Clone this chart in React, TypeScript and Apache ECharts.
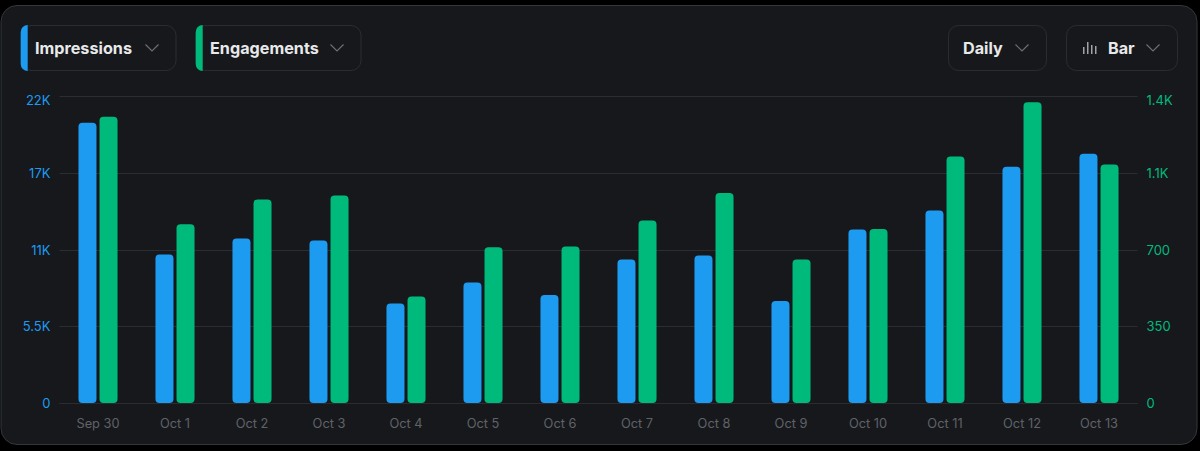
import React, { useEffect, useRef } from "react";
import * as echarts from "echarts";

const categories = ["Sep 30", "Oct 1", "Oct 2", "Oct 3", "Oct 4", "Oct 5", "Oct 6", "Oct 7", "Oct 8", "Oct 9", "Oct 10", "Oct 11", "Oct 12", "Oct 13"];
const impressions = [20115, 10656, 11802, 11659, 7144, 8649, 7754, 10298, 10584, 7324, 12447, 13809, 16962, 17894];
const engagements = [1308, 816, 930, 948, 487, 711, 715, 834, 959, 656, 795, 1126, 1374, 1089];

const BLUE = "#1d9bf0";
const GREEN = "#00ba7c";
const CARD = "#17181c";
const BORDER = "#2a2c30";
const FONT = "Inter, 'Noto Sans', sans-serif";

const fmtValue = (v: number) => {
  if (v === 0) return "0";
  if (v >= 1000) {
    const k = v / 1000;
    return (k >= 10 ? Math.round(k + 0.001) : Math.round(k * 10) / 10) + "K";
  }
  return String(v);
};

const fmt = (max: number) => (v: number) => (v === max ? `{top|${fmtValue(v)}}` : fmtValue(v));

const topRich = (color: string) => ({
  top: { color, fontSize: 13, fontFamily: FONT, padding: [7, 0, 0, 0] },
});

const chevron = (cx: number, cy: number) => ({
  type: "polyline",
  shape: { points: [[cx - 6.5, cy - 3.5], [cx, cy + 3], [cx + 6.5, cy - 3.5]] },
  style: { stroke: "#6b6f74", lineWidth: 1.2, fill: "none" },
  silent: true,
});

const chip = (x: number, w: number) => ({
  type: "rect",
  shape: { x: x + 0.5, y: 25.5, width: w, height: 45, r: 10 },
  style: { fill: "none", stroke: BORDER, lineWidth: 1 },
  silent: true,
});

const label = (x: number, text: string) => ({
  type: "text",
  x,
  y: 48,
  style: { text, fill: "#e7e9ea", font: `700 16.2px ${FONT}`, verticalAlign: "middle" },
  silent: true,
});

const accent = (x: number, color: string) => ({
  type: "rect",
  shape: { x, y: 25, width: 7, height: 46, r: [9, 0, 0, 9] },
  style: { fill: color },
  silent: true,
});

const barIcon = [[1083, 47, 1.5, 7], [1087, 42, 1.5, 12], [1091, 45, 1.5, 9], [1095, 46, 1.5, 8]].map(([x, y, w, h]) => ({
  type: "rect",
  shape: { x, y, width: w, height: h },
  style: { fill: "#a0a4a8" },
  silent: true,
}));

export default function App() {
  const ref = useRef<HTMLDivElement>(null);
  useEffect(() => {
    const chart = echarts.init(ref.current!, null, { renderer: "svg" });
    chart.setOption({
      animation: false,
      backgroundColor: "#000000",
      textStyle: { fontFamily: FONT },
      graphic: [
        {
          type: "rect",
          z: -10,
          shape: { x: 1, y: 5.5, width: 1196, height: 439, r: 16 },
          style: { fill: CARD, stroke: "#33363b", lineWidth: 1 },
          silent: true,
        },
        chip(20.5, 155),
        accent(20.7, BLUE),
        label(35, "Impressions"),
        chevron(152, 48),
        chip(195.5, 165),
        accent(195.7, GREEN),
        label(210, "Engagements"),
        chevron(337, 48),
        chip(948, 98),
        label(963, "Daily"),
        chevron(1022, 48),
        chip(1066, 111),
        ...barIcon,
        label(1108, "Bar"),
        chevron(1153, 48),
      ],
      grid: { left: 59.5, right: 62.5, top: 96.5, bottom: 48 },
      xAxis: {
        type: "category",
        data: categories,
        axisLine: { lineStyle: { color: BORDER, width: 1 } },
        axisTick: { show: false },
        axisLabel: { color: "#5f6368", fontSize: 12.8, margin: 14, fontFamily: FONT },
      },
      yAxis: [
        {
          type: "value",
          min: 0,
          max: 22000,
          interval: 5500,
          axisLine: { show: false },
          axisTick: { show: false },
          axisLabel: { color: BLUE, fontSize: 13, margin: 9, formatter: fmt(22000), fontFamily: FONT, rich: topRich(BLUE) },
          splitLine: { lineStyle: { color: "#2a2d31", width: 1 } },
        },
        {
          type: "value",
          min: 0,
          max: 1400,
          interval: 350,
          axisLine: { show: false },
          axisTick: { show: false },
          axisLabel: { color: GREEN, fontSize: 13, margin: 9, formatter: fmt(1400), fontFamily: FONT, rich: topRich(GREEN) },
          splitLine: { show: false },
        },
      ],
      series: [
        {
          name: "Impressions",
          type: "bar",
          yAxisIndex: 0,
          data: impressions,
          barWidth: 18,
          barGap: "17%",
          itemStyle: { color: BLUE, borderRadius: 4 },
        },
        {
          name: "Engagements",
          type: "bar",
          yAxisIndex: 1,
          data: engagements,
          barWidth: 18,
          barGap: "17%",
          itemStyle: { color: GREEN, borderRadius: 4 },
        },
      ],
    });
    return () => chart.dispose();
  }, []);
  return <div ref={ref} style={{ position: "absolute", left: 0, top: 0, width: 1200, height: 451 }} />;
}
